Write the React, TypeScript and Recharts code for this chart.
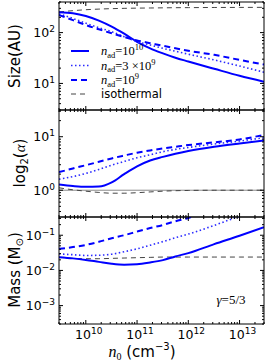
import { LineChart, Line, XAxis, YAxis, ReferenceLine } from 'recharts'

// density grid (cm^-3)
const N0 = [3e9, 5.6e9, 1e10, 1.8e10, 3.2e10, 5.6e10, 1e11, 1.8e11, 3.2e11, 5.6e11, 1e12, 3.2e12, 1e13, 3e13]

// Size (AU)
const SIZE_NAD_1E10 = [251, 240, 212, 172, 131, 95, 66, 49, 39, 32, 27, 19.4, 14.1, 10.8]
const SIZE_NAD_3E9 = [233, 190, 153, 125, 104, 83, 66.5, 57, 49, 43, 37.6, 29, 22, 16.6]
const SIZE_NAD_1E9 = [222, 176, 141, 116, 97, 82, 70, 62, 55, 49, 44, 36.5, 29, 23.5]
const SIZE_ISO = [255, 270, 282, 290, 296, 300, 303, 305, 307, 309, 310, 312, 313, 314]

// log2(alpha)
const ALPHA_NAD_1E10 = [1.28, 1.2, 1.16, 1.17, 1.4, 2.0, 2.8, 3.6, 4.2, 4.8, 5.4, 6.5, 7.5, 8.5]
const ALPHA_NAD_3E9 = [1.61, 1.8, 2.06, 2.45, 2.94, 3.45, 4.05, 4.6, 5.25, 5.8, 6.3, 7.3, 8.3, 9.6]
const ALPHA_NAD_1E9 = [2.18, 2.55, 2.94, 3.4, 3.93, 4.45, 5.03, 5.55, 6.06, 6.5, 6.98, 7.85, 8.9, 10.8]
const ALPHA_ISO = [1.11, 1.02, 0.96, 0.91, 0.88, 0.88, 0.9, 0.93, 0.96, 0.98, 0.99, 1.0, 1.0, 1.0]

// Mass (Msun)
const MASS_NAD_1E10 = [0.0238, 0.022, 0.0199, 0.0175, 0.0155, 0.0146, 0.015, 0.0168, 0.0196, 0.025, 0.031, 0.056, 0.097, 0.17]
const MASS_NAD_3E9 = [0.0295, 0.028, 0.0266, 0.027, 0.0289, 0.034, 0.041, 0.052, 0.066, 0.085, 0.108, 0.19, 0.35, 0.6]
const MASS_NAD_1E9 = [0.041, 0.046, 0.053, 0.065, 0.082, 0.1, 0.127, 0.16, 0.196, 0.25, 0.31, 0.55, 0.9, 1.5]
const MASS_ISO = [0.0238, 0.022, 0.0215, 0.0215, 0.022, 0.0225, 0.023, 0.0235, 0.024, 0.024, 0.024, 0.024, 0.024, 0.024]

const X_DOMAIN: [number, number] = [3e9, 3e13]
const SIZE_DOMAIN: [number, number] = [3, 400]
const ALPHA_DOMAIN: [number, number] = [0.316, 31.6]
const MASS_DOMAIN: [number, number] = [3e-4, 0.33]

const X_MAJOR = [1e10, 1e11, 1e12, 1e13]
const SIZE_MAJOR = [10, 100]
const ALPHA_MAJOR = [1, 10]
const MASS_MAJOR = [1e-3, 1e-2, 1e-1]

const ROWS = N0.map((n0, i) => ({
  n0,
  s1: SIZE_NAD_1E10[i], s3: SIZE_NAD_3E9[i], s9: SIZE_NAD_1E9[i], si: SIZE_ISO[i],
  a1: ALPHA_NAD_1E10[i], a3: ALPHA_NAD_3E9[i], a9: ALPHA_NAD_1E9[i], ai: ALPHA_ISO[i],
  m1: MASS_NAD_1E10[i], m3: MASS_NAD_3E9[i], m9: MASS_NAD_1E9[i], mi: MASS_ISO[i],
}))

const BLUE = '#0000ff'
const STYLES: Record<string, any> = {
  one: { stroke: BLUE, strokeWidth: 2 },
  three: { stroke: '#2a2aff', strokeWidth: 1.6, strokeDasharray: '1.5 2.5' },
  nine: { stroke: BLUE, strokeWidth: 2, strokeDasharray: '6 4' },
  iso: { stroke: '#444', strokeWidth: 1, strokeDasharray: '5 4' },
}

const SANS = 'DejaVu Sans'
const SERIF = 'Liberation Serif'

// majors + 2..9 minors inside the domain
function logTicks(dom: [number, number], majors: number[]) {
  const out: number[] = []
  const lo = Math.floor(Math.log10(dom[0]))
  const hi = Math.ceil(Math.log10(dom[1]))
  for (let e = lo; e <= hi; e++) {
    for (let m = 1; m < 10; m++) {
      const v = m * Math.pow(10, e)
      if (v >= dom[0] * 0.999 && v <= dom[1] * 1.001) out.push(v)
    }
  }
  return out.filter(v => !majors.some(M => Math.abs(M - v) / M < 1e-6)).concat(majors)
}

const isMajor = (v: number) => Math.abs(Math.log10(v) - Math.round(Math.log10(v))) < 1e-6
const expLabel = (v: number) => {
  const e = Math.round(Math.log10(v))
  return e < 0 ? '\u2212' + Math.abs(e) : String(e)
}

const makeTick = (side: 'bottom' | 'top' | 'left' | 'right', labels: boolean) => (props: any) => {
  const { x, y, payload } = props
  const v = payload.value
  const major = isMajor(v)
  const len = major ? 4 : 2
  let line
  if (side === 'bottom') line = <line x1={x} x2={x} y1={y} y2={y - len} stroke="#000" />
  else if (side === 'top') line = <line x1={x} x2={x} y1={y} y2={y + len} stroke="#000" />
  else if (side === 'left') line = <line x1={x} x2={x + len} y1={y} y2={y} stroke="#000" />
  else line = <line x1={x} x2={x - len} y1={y} y2={y} stroke="#000" />
  let label = null
  if (labels && major) {
    if (side === 'bottom') {
      label = (
        <text x={x + 3} y={y + 15} textAnchor="middle" fontFamily={SANS} fontSize={12.5} fill="#000">
          10<tspan dy={-5} fontSize={9}>{expLabel(v)}</tspan>
        </text>
      )
    } else if (side === 'left') {
      label = (
        <text x={x - 4} y={y + 4.5} textAnchor="end" fontFamily={SANS} fontSize={12.5} fill="#000">
          10<tspan dy={-5} fontSize={9}>{expLabel(v)}</tspan>
        </text>
      )
    }
  }
  return (
    <g>
      {line}
      {label}
    </g>
  )
}

type Panel = {
  top: number
  height: number
  yDomain: [number, number]
  yMajor: number[]
  keys: [string, string][]
  xLabels?: boolean
  refOne?: boolean
}

// plot area of each panel: top = div top + 2, bottom = div top + height - xAxis height
function LogPanel({ top, height, yDomain, yMajor, keys, xLabels, refOne }: Panel) {
  const xTicks = logTicks(X_DOMAIN, X_MAJOR)
  const yTicks = logTicks(yDomain, yMajor)
  const axisLine = { stroke: '#000', strokeWidth: 1 }
  return (
    <div style={{ position: 'absolute', left: 0, top }}>
      <LineChart width={275} height={height} data={ROWS} margin={{ top: 1, right: 10, bottom: 0, left: 0 }}>
        <XAxis dataKey="n0" type="number" scale="log" domain={X_DOMAIN} allowDataOverflow ticks={xTicks}
          interval={0} tickSize={0} tickMargin={0} tickLine={false} axisLine={axisLine}
          height={xLabels ? 38 : 1} tick={makeTick('bottom', !!xLabels)} />
        <XAxis xAxisId="top" orientation="top" dataKey="n0" type="number" scale="log" domain={X_DOMAIN}
          allowDataOverflow ticks={xTicks} interval={0} tickSize={0} tickMargin={0} tickLine={false}
          axisLine={axisLine} height={1} tick={makeTick('top', false)} />
        <YAxis type="number" scale="log" domain={yDomain} allowDataOverflow ticks={yTicks} interval={0}
          width={59} tickSize={0} tickMargin={0} tickLine={false} axisLine={axisLine}
          tick={makeTick('left', true)} />
        <YAxis yAxisId="right" orientation="right" type="number" scale="log" domain={yDomain} allowDataOverflow
          ticks={yTicks} interval={0} width={1} tickSize={0} tickMargin={0} tickLine={false}
          axisLine={axisLine} tick={makeTick('right', false)} />
        {refOne && <ReferenceLine y={1} stroke="#8a8a8a" strokeWidth={1} />}
        {keys.map(([k, s]) => (
          <Line key={k} dataKey={k} type="monotone" dot={false} activeDot={false}
            isAnimationActive={false} {...STYLES[s]} />
        ))}
      </LineChart>
    </div>
  )
}

function Overlay() {
  const rows: [string, number][] = [['one', 51], ['three', 65.5], ['nine', 80], ['iso', 94]]
  return (
    <svg width={275} height={362} style={{ position: 'absolute', left: 0, top: 0, pointerEvents: 'none' }}>
      <text transform="translate(20,56) rotate(-90)" textAnchor="middle" fontFamily={SANS} fontSize={15}>Size(AU)</text>
      <text transform="translate(25,163) rotate(-90)" textAnchor="middle" fontFamily={SANS} fontSize={15}>
        log<tspan fontSize={10} dy={3}>2</tspan><tspan dy={-3}>(</tspan>
        <tspan fontFamily={SERIF} fontStyle="italic">{'\u03b1'}</tspan>)
      </text>
      <text transform="translate(20,270) rotate(-90)" textAnchor="middle" fontFamily={SANS} fontSize={15}>
        Mass (M<tspan fontSize={10} dy={3}>{'\u2299'}</tspan><tspan dy={-3}>)</tspan>
      </text>
      <text x={142} y={357} textAnchor="middle" fontFamily={SANS} fontSize={15}>
        <tspan fontFamily={SERIF} fontStyle="italic" fontSize={16}>n</tspan>
        <tspan fontFamily={SERIF} fontSize={10} dy={3}>0</tspan>
        <tspan dy={-3}> (cm</tspan><tspan fontSize={10} dy={-7}>{'\u2212'}3</tspan><tspan dy={7}>)</tspan>
      </text>
      <text x={231} y={304} textAnchor="middle" fontFamily={SERIF} fontSize={13}>
        <tspan fontStyle="italic">{'\u03b3'}</tspan>=5/3
      </text>
      {rows.map(([s, y]) => (
        <line key={s} x1={71} x2={89} y1={y} y2={y} {...STYLES[s]} />
      ))}
      <text x={101} y={55} fontFamily={SERIF} fontSize={12.5}>
        <tspan fontStyle="italic">n</tspan><tspan fontSize={8.5} dy={2.5}>ad</tspan>
        <tspan dy={-2.5}>=10</tspan><tspan fontSize={8.5} dy={-5}>10</tspan>
      </text>
      <text x={101} y={69.5} fontFamily={SERIF} fontSize={12.5}>
        <tspan fontStyle="italic">n</tspan><tspan fontSize={8.5} dy={2.5}>ad</tspan>
        <tspan dy={-2.5}>=3 {'\u00d7'}10</tspan><tspan fontSize={8.5} dy={-5}>9</tspan>
      </text>
      <text x={101} y={84} fontFamily={SERIF} fontSize={12.5}>
        <tspan fontStyle="italic">n</tspan><tspan fontSize={8.5} dy={2.5}>ad</tspan>
        <tspan dy={-2.5}>=10</tspan><tspan fontSize={8.5} dy={-5}>9</tspan>
      </text>
      <text x={101} y={98} fontFamily={SANS} fontSize={11.5}>isothermal</text>
    </svg>
  )
}

export default function App() {
  return (
    <div style={{ position: 'fixed', left: 0, top: 0, width: 275, height: 362, background: '#fff', overflow: 'hidden' }}>
      <LogPanel top={0} height={111} yDomain={SIZE_DOMAIN} yMajor={SIZE_MAJOR}
        keys={[['si', 'iso'], ['s1', 'one'], ['s3', 'three'], ['s9', 'nine']]} />
      <LogPanel top={108} height={110} yDomain={ALPHA_DOMAIN} yMajor={ALPHA_MAJOR} refOne
        keys={[['ai', 'iso'], ['a1', 'one'], ['a3', 'three'], ['a9', 'nine']]} />
      <LogPanel top={215} height={147} yDomain={MASS_DOMAIN} yMajor={MASS_MAJOR} xLabels
        keys={[['mi', 'iso'], ['m1', 'one'], ['m3', 'three'], ['m9', 'nine']]} />
      <Overlay />
    </div>
  )
}
